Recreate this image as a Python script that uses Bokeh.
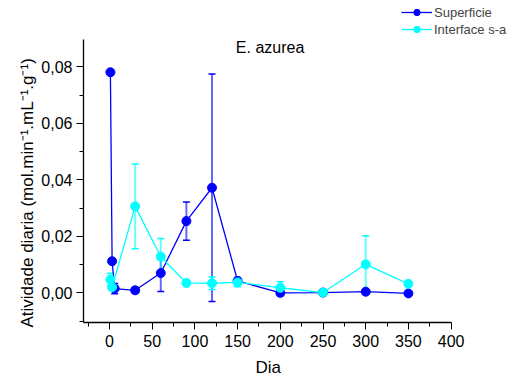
from bokeh.plotting import figure
from bokeh.models import (ColumnDataSource, Whisker, Legend, LegendItem, Label, Title,
                          CustomJSTickFormatter, FixedTicker, Range1d)
from bokeh.embed import file_html
from bokeh.resources import INLINE

# ---- data ----
sup_days = [1, 3, 6, 30, 60, 90, 120, 150, 200, 250, 300, 350]
sup_vals = [0.0781, 0.0112, 0.0015, 0.0009, 0.0070, 0.0254, 0.0372, 0.0042, 0.0000, 0.0001, 0.0004, -0.0002]
sup_err = [0.0, 0.0, 0.0018, 0.0010, 0.0065, 0.0068, 0.0403, 0.0012, 0.0010, 0.0010, 0.0004, 0.0]

int_days = [1, 3, 30, 60, 90, 120, 150, 200, 250, 300, 350]
int_vals = [0.0047, 0.0020, 0.0306, 0.0128, 0.0035, 0.0034, 0.0037, 0.0018, 0.0001, 0.0101, 0.0032]
int_err = [0.0022, 0.0010, 0.0150, 0.0064, 0.0, 0.0022, 0.0015, 0.0021, 0.0005, 0.0101, 0.0]

x_ticks = [0, 50, 100, 150, 200, 250, 300, 350, 400]
y_ticks = [0.0, 0.02, 0.04, 0.06, 0.08]
x_axis_span = (-30.5, 400)
y_axis_span = (-0.0105, 0.0898)

series_names = ["Superficie", "Interface s-a"]
title_text = "E. azurea"
x_label = "Dia"
y_label = "Atividade diaria (mol.min\u207b\u00b9.mL\u207b\u00b9.g\u207b\u00b9)"

BLUE = "#0000FF"
CYAN = "#00FFFF"
FONT = "Liberation Sans"

# frame spans to the top/right canvas edge so the legend fits inside it;
# the axes themselves are limited with `bounds`
p = figure(width=515, height=383, output_backend="svg", toolbar_location=None,
           x_range=Range1d(-30.5, 475.4), y_range=Range1d(-0.0105, 0.1035))
p.min_border_left = 83
p.min_border_right = 0
p.min_border_top = 0
p.min_border_bottom = 61
p.outline_line_color = None
p.grid.visible = False
p.background_fill_color = "white"
p.border_fill_color = "white"

def add_series(days, vals, errs, color):
    lo = [v - e for v, e in zip(vals, errs)]
    hi = [v + e for v, e in zip(vals, errs)]
    src = ColumnDataSource(dict(x=days, y=vals, lo=lo, hi=hi))
    w = Whisker(source=src, base="x", upper="hi", lower="lo",
                line_color=color, line_alpha=0.6, line_width=2)
    w.upper_head.size = 7
    w.lower_head.size = 7
    w.upper_head.line_color = color
    w.lower_head.line_color = color
    w.upper_head.line_width = 1.5
    w.lower_head.line_width = 1.5
    p.add_layout(w)
    r_line = p.line("x", "y", source=src, line_color=color, line_width=1.3)
    r_pts = p.scatter("x", "y", source=src, size=9, fill_color=color, line_color=color)
    return r_line, r_pts

b_line, b_pts = add_series(sup_days, sup_vals, sup_err, BLUE)
c_line, c_pts = add_series(int_days, int_vals, int_err, CYAN)

# axes
p.xaxis.ticker = FixedTicker(ticks=x_ticks, minor_ticks=[t + 25 for t in [-50] + x_ticks[:-1]])
p.yaxis.ticker = FixedTicker(ticks=y_ticks, minor_ticks=[-0.01, 0.01, 0.03, 0.05, 0.07])
p.yaxis.formatter = CustomJSTickFormatter(code="return tick.toFixed(2).replace('.', ',');")
p.xaxis.bounds = x_axis_span
p.yaxis.bounds = y_axis_span
for ax in (p.xaxis, p.yaxis):
    ax.major_label_text_font = FONT
    ax.major_label_text_font_size = "16px"
    ax.major_label_text_color = "black"
    ax.axis_line_color = "black"
    ax.axis_line_width = 1.3
    ax.major_tick_line_color = "black"
    ax.minor_tick_line_color = "black"
    ax.major_tick_in = 0
    ax.major_tick_out = 7
    ax.minor_tick_in = 0
    ax.minor_tick_out = 4
p.xaxis.major_label_standoff = 5
p.yaxis.major_label_standoff = 4

# axis titles placed along the bounded axis lines
p.add_layout(Title(text=y_label, align="left", offset=-5, standoff=4,
                   text_font=FONT, text_font_size="17px", text_font_style="normal",
                   text_color="black"), "left")
p.add_layout(Title(text=x_label, align="left", offset=172, standoff=12,
                   text_font=FONT, text_font_size="17px", text_font_style="normal",
                   text_color="black"), "below")

# title inside plot
p.add_layout(Label(x=188, y=0.0867, text=title_text, text_font=FONT,
                   text_font_size="16px", text_align="center",
                   text_baseline="middle", text_color="black"))

legend = Legend(items=[LegendItem(label=series_names[0], renderers=[b_line, b_pts]),
                       LegendItem(label=series_names[1], renderers=[c_line, c_pts])],
                location=(318, 285))
legend.background_fill_alpha = 0
legend.border_line_color = None
legend.padding = 0
legend.margin = 0
legend.spacing = 1
legend.glyph_width = 31
legend.glyph_height = 16
legend.label_height = 16
legend.label_standoff = 2
legend.label_text_font = FONT
legend.label_text_font_size = "13px"
p.add_layout(legend, "center")

open("out.html", "w").write(file_html(p, INLINE))
